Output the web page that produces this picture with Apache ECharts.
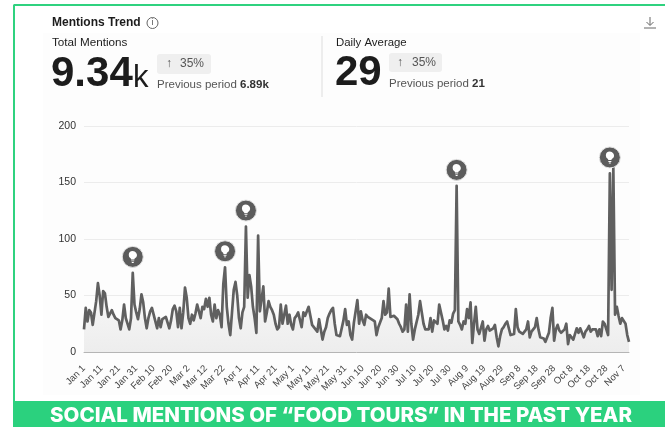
<!DOCTYPE html>
<html>
<head>
<meta charset="utf-8">
<style>
  html, body { margin: 0; padding: 0; background: #fff; }
  #main { width: 665px; height: 427px; }
</style>
</head>
<body>
<div id="main"></div>
<script src="https://cdn.jsdelivr.net/npm/echarts@6/dist/echarts.min.js"></script>
<script>
const monthNames = ['Jan', 'Feb', 'Mar', 'Apr', 'May', 'Jun', 'Jul', 'Aug', 'Sep', 'Oct', 'Nov']
const monthDays = [31, 28, 31, 30, 31, 30, 31, 31, 30, 31, 10]

// daily mentions, Jan 1 to Nov 10
const mentions = [
  20, 39, 27, 37, 35, 24, 25, 45, 61, 50, 33, 54, 52, 40, 31, 30, 37, 33, 30, 30,
  28, 20, 28, 42, 30, 29, 20, 30, 70, 42, 35, 29, 38, 51, 44, 30, 21, 30, 36, 39,
  33, 34, 21, 30, 22, 29, 30, 31, 31, 21, 28, 38, 41, 36, 22, 39, 21, 35, 57, 48,
  30, 25, 33, 28, 34, 42, 36, 30, 40, 38, 47, 40, 48, 33, 27, 42, 30, 37, 33, 22,
  60, 75, 40, 25, 15, 35, 55, 62, 50, 30, 21, 35, 40, 111, 48, 68, 58, 40, 30, 17,
  103, 36, 35, 58, 27, 35, 45, 40, 37, 33, 25, 20, 22, 42, 25, 24, 41, 25, 33, 24,
  20, 30, 32, 35, 35, 22, 35, 32, 32, 40, 32, 24, 22, 20, 18, 29, 20, 11, 18, 22,
  30, 34, 37, 39, 25, 15, 15, 14, 14, 28, 38, 24, 27, 15, 11, 26, 27, 46, 25, 36,
  28, 24, 33, 31, 30, 29, 29, 27, 15, 22, 23, 30, 45, 33, 35, 56, 31, 32, 32, 31,
  29, 25, 22, 18, 20, 42, 18, 51, 25, 11, 20, 19, 33, 45, 35, 25, 20, 21, 20, 30,
  18, 28, 27, 25, 42, 42, 28, 20, 23, 19, 28, 26, 34, 37, 147, 27, 24, 20, 27, 25,
  38, 30, 44, 8, 25, 40, 20, 16, 16, 27, 10, 20, 23, 19, 18, 21, 24, 13, 5, 14,
  20, 22, 25, 27, 28, 15, 16, 16, 38, 22, 18, 17, 16, 17, 20, 27, 13, 18, 19, 22,
  30, 20, 13, 12, 12, 9, 9, 17, 30, 39, 10, 20, 24, 19, 17, 18, 20, 25, 7, 15,
  14, 11, 16, 21, 17, 21, 21, 13, 18, 20, 23, 18, 20, 21, 20, 14, 20, 14, 27, 25,
  20, 15, 158, 55, 163, 33, 40, 32, 25, 30, 30, 25, 15, 9
]
const insightDays = [28, 81, 93, 214, 302]

const categories = []
monthNames.forEach((name, m) => {
  for (let d = 1; d <= monthDays[m]; d++) categories.push(name + ' ' + d)
})

const bulbPath = 'path://M12 2a6.5 6.5 0 0 0-3.6 11.9c.7.6 1 1.2 1 2.1h5.2c0-.9.3-1.5 1-2.1A6.5 6.5 0 0 0 12 2zM9.6 17.5h4.8v1.4H9.6zM10.4 20h3.2v1.4h-3.2z'
const insightCoords = insightDays.map(i => ({ coord: [i, mentions[i]] }))

const font = '"Liberation Sans", Arial, sans-serif'
const dark = '#1c1c1c'

function txt(x, y, text, size, weight, fill, extra) {
  return {
    type: 'text', x: x, y: y, silent: true,
    style: Object.assign({ text: text, font: weight + ' ' + size + 'px ' + font, fill: fill, textVerticalAlign: 'middle' }, extra || {})
  }
}
function badge(x, y, w, h) {
  return { type: 'rect', shape: { x: x, y: y, width: w, height: h, r: 3 }, style: { fill: '#efefef' }, silent: true }
}
function seg(x1, y1, x2, y2, stroke, width) {
  return { type: 'line', shape: { x1: x1, y1: y1, x2: x2, y2: y2 }, style: { stroke: stroke, lineWidth: width }, silent: true }
}

const chart = echarts.init(document.getElementById('main'))
chart.setOption({
  animation: false,
  backgroundColor: '#fff',
  textStyle: { fontFamily: font },
  grid: { left: 84, right: 36, top: 126, bottom: 75 },
  xAxis: {
    type: 'category',
    data: categories,
    boundaryGap: false,
    axisLine: { lineStyle: { color: '#b5b5b5', width: 1 } },
    axisTick: { show: false },
    axisLabel: { interval: 9, rotate: 45, fontSize: 9.5, color: '#444', margin: 15 }
  },
  yAxis: {
    type: 'value',
    min: 0,
    max: 200,
    interval: 50,
    axisLine: { show: false },
    axisTick: { show: false },
    splitLine: { lineStyle: { color: '#ececec', width: 1 } },
    axisLabel: { fontSize: 10.5, color: '#333', margin: 8 }
  },
  series: [
    {
      type: 'line',
      data: mentions,
      symbol: 'none',
      lineStyle: { color: '#606060', width: 2.7, join: 'round' },
      areaStyle: {
        color: new echarts.graphic.LinearGradient(0, 0, 0, 1, [
          { offset: 0, color: '#ffffff' },
          { offset: 0.7, color: '#f4f4f4' },
          { offset: 1, color: '#e6e6e6' }
        ])
      },
      markPoint: {
        symbol: 'circle',
        symbolSize: 21,
        symbolOffset: [0, -16],
        silent: true,
        label: { show: false },
        itemStyle: { color: '#5c5c5c', borderColor: '#e2e2e2', borderWidth: 1 },
        data: insightCoords
      }
    },
    {
      type: 'line',
      data: [],
      symbol: 'none',
      markPoint: {
        symbol: bulbPath,
        symbolSize: 12,
        symbolKeepAspect: true,
        symbolOffset: [0, -16],
        silent: true,
        label: { show: false },
        itemStyle: { color: '#ffffff' },
        data: insightCoords
      }
    }
  ],
  graphic: [
    { type: 'rect', z: -1, shape: { x: 43, y: 33, width: 597, height: 362 }, style: { fill: '#fdfdfd' }, silent: true },
    // green frame and banner
    seg(13.5, 5, 665, 5, '#2fd27f', 2),
    seg(14, 5, 14, 402, '#2fd27f', 2),
    { type: 'rect', shape: { x: 13, y: 401, width: 652, height: 26 }, style: { fill: '#2bd17e' }, silent: true },
    {
      type: 'text', x: 341, y: 416, silent: true,
      style: {
        text: 'SOCIAL MENTIONS OF “FOOD TOURS” IN THE PAST YEAR',
        font: '800 20.5px Inter, sans-serif', fill: '#fff',
        textAlign: 'center', textVerticalAlign: 'middle'
      }
    },
    // header
    txt(52, 23, 'Mentions Trend', 12, 'bold', dark),
    { type: 'circle', shape: { cx: 152.5, cy: 23, r: 5.5 }, style: { fill: 'none', stroke: '#666', lineWidth: 1 }, silent: true },
    txt(152.5, 23, 'i', 9, 'normal', '#555', { textAlign: 'center' }),
    seg(650, 17, 650, 25, '#666', 1),
    seg(646.5, 22, 650, 25.5, '#666', 1),
    seg(653.5, 22, 650, 25.5, '#666', 1),
    seg(644, 28, 656, 28, '#666', 1),
    // total mentions
    txt(52, 43, 'Total Mentions', 11.7, 'normal', dark),
    txt(51, 74, '9.34', 42, 'bold', dark),
    txt(133, 78, 'k', 31, 'normal', dark),
    badge(157, 54, 54, 20),
    txt(166, 64, '↑', 12, 'normal', '#555'),
    txt(180, 64, '35%', 12, 'normal', '#555'),
    txt(157, 85, 'Previous period ', 11.5, 'normal', '#555'),
    txt(240, 85, '6.89k', 11.5, 'bold', '#333'),
    seg(322, 36, 322, 97, '#dddddd', 1),
    // daily average
    txt(336, 43, 'Daily Average', 11.4, 'normal', dark),
    txt(335, 73, '29', 42, 'bold', dark),
    badge(389, 53, 53, 19),
    txt(397, 63, '↑', 12, 'normal', '#555'),
    txt(412, 63, '35%', 12, 'normal', '#555'),
    txt(389, 84, 'Previous period ', 11.5, 'normal', '#555'),
    txt(472, 84, '21', 11.5, 'bold', '#333')
  ]
})
</script>
</body>
</html>
